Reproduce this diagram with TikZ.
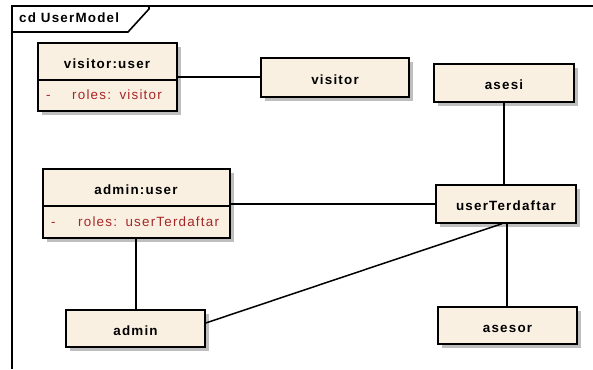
\documentclass[tikz,border=0pt]{standalone}
\usepackage{fontspec}
\setmainfont{Liberation Sans}[LetterSpace=9]
\usetikzlibrary{shadows}
\definecolor{classfill}{RGB}{250,240,226}
\definecolor{attrred}{RGB}{165,38,38}
\definecolor{shade}{RGB}{190,190,190}
\tikzset{
  classbox/.style={draw=black, line width=1.4bp, fill=classfill, inner sep=0pt,
    drop shadow={shadow xshift=4bp, shadow yshift=-4bp, fill=shade, opacity=1}},
  title/.style={font=\fontsize{13.4bp}{15bp}\selectfont\bfseries, inner sep=0pt,
    text height=13bp, text depth=0pt, anchor=center},
  attr/.style={font=\fontsize{13.4bp}{15bp}\selectfont, text=attrred, inner sep=0pt, anchor=base west},
  link/.style={draw=black, line width=1.5bp},
  frameline/.style={draw=black, line width=2.2bp}
}
\newcommand{\classnode}[5]{% name, left, top, right, bottom
  \node[classbox, minimum width=#4bp-#2bp, minimum height=#5bp-#3bp] (#1)
    at ({(#2+#4)/2}, {(#3+#5)/2}) {};}
\begin{document}
\begin{tikzpicture}[x=1bp, y=-1bp]
  \useasboundingbox (0,0) rectangle (593,369);

  % diagram frame with its name tab
  \draw[frameline] (12,369) -- (12,6) -- (593,6);
  \draw[frameline, line width=1.6bp] (12,32) -- (128,32) -- (149,9) -- (149,6);
  \node[title, anchor=base west, text height=, text depth=] (framename) at (19,22.5) {cd UserModel};

  % object visitor:user
  \classnode{vu}{38}{43}{177}{111}
  \draw[line width=1.4bp] (vu.west |- 0,80) coordinate (vud1) -- (vu.east |- 0,80) coordinate (vud2);
  \node[title] (vutitle) at (107,61.5) {visitor:user};
  \node[attr] (vudash) at (46,99) {-};
  \node[attr] (vuroles) at (72,99) {roles:\hspace{2bp} visitor};

  % object admin:user
  \classnode{au}{43}{169}{230}{238}
  \draw[line width=1.4bp] (au.west |- 0,206) coordinate (aud1) -- (au.east |- 0,206) coordinate (aud2);
  \node[title] (autitle) at (136,187.5) {admin:user};
  \node[attr] (audash) at (51,226) {-};
  \node[attr] (auroles) at (78,226) {roles:\hspace{2bp} userTerdaftar};

  % classes
  \classnode{visitor}{261}{58}{409}{97}
  \node[title] (visitorlbl) at (visitor.center) {visitor};
  \classnode{asesi}{434}{64}{574}{102}
  \node[title] (asesilbl) at (asesi.center) {asesi};
  \classnode{ut}{436}{185}{576}{223}
  \node[title] (utlbl) at (ut.center) {userTerdaftar};
  \classnode{asesor}{438}{307}{577}{344}
  \node[title] (asesorlbl) at (asesor.center) {asesor};
  \classnode{admin}{66}{310}{205}{347}
  \node[title] (adminlbl) at (admin.center) {admin};

  % links
  \draw[link] (vu.east) -- (vu.east -| visitor.west);
  \draw[link] (au.east |- ut.west) -- (ut.west);
  \draw[link] (asesi.south) -- (asesi.south |- ut.north);
  \draw[link] ([xshift=-0.5bp]asesor.north) -- ([xshift=-0.5bp]asesor.north |- ut.south);
  \draw[link] (au.south -| 136,0) -- (admin.north -| 136,0);
  \draw[link] ([xshift=-4bp]ut.south) -- ([yshift=5.5bp]admin.east);
\end{tikzpicture}
\end{document}
